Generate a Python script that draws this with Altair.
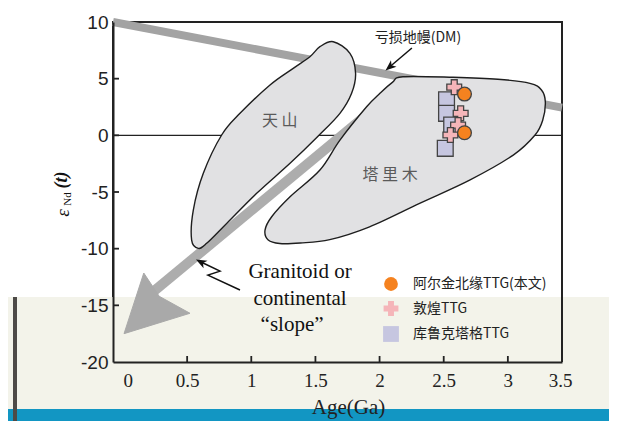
import altair as alt
import pandas as pd

# ---------------- data ----------------
tianshan_x = [1.717, 1.847, 1.891, 1.860, 1.769, 1.600, 1.380, 1.120, 0.886, 0.730,
              0.665, 0.613, 0.626, 0.704, 0.847, 0.990, 1.224, 1.405, 1.535, 1.613]
tianshan_y = [8.26, 7.24, 5.47, 3.71, 1.94, -0.06, -2.47, -5.12, -7.77, -9.53,
              -9.97, -9.24, -6.59, -3.35, 0.03, 1.94, 4.44, 5.91, 6.94, 7.82]

tarim_x = [2.26, 2.65, 3.00, 3.25, 3.34, 3.37, 3.35, 3.29, 3.12, 2.78, 2.39, 2.00,
           1.69, 1.46, 1.30, 1.21, 1.185, 1.237, 1.38, 1.613, 1.769, 1.977, 2.081, 2.18]
tarim_y = [5.17, 5.12, 4.95, 4.59, 4.00, 2.97, 1.35, 0.03, -1.74, -3.95, -6.00, -8.07,
           -9.20, -9.50, -9.55, -9.24, -8.36, -7.18, -5.42, -3.06, -0.42, 2.52, 3.71, 4.70]

dm_x = [0.0, 3.5]
dm_y = [10.0, 2.45]

slope_x = [0.26, 2.30]
slope_y = [-14.3, 4.83]

head_x = [0.086, 0.24, 0.36, 0.60]
head_y = [-17.5, -12.15, -14.2, -15.7]

series = ["阿尔金北缘TTG(本文)", "敦煌TTG", "库鲁克塔格TTG"]
alk_x = [2.74, 2.74]
alk_y = [3.64, 0.23]
dh_x = [2.66, 2.71, 2.69, 2.63]
dh_y = [4.25, 1.94, 0.90, 0.03]
kl_x = [2.60, 2.60, 2.64, 2.59]
kl_y = [3.14, 1.94, 0.91, -1.15]

x_ticks = [0, 0.5, 1, 1.5, 2, 2.5, 3, 3.5]
y_ticks = [-20, -15, -10, -5, 0, 5, 10]

dm_arrow_x = [2.33, 2.158]
dm_arrow_y = [7.71, 6.05]
gran_arrow_x = [0.99, 0.74, 0.834, 0.686]
gran_arrow_y = [-13.65, -12.33, -11.98, -11.18]

gran_lines = ["Granitoid or", "continental", "\u201cslope\u201d"]
gran_x = [1.458, 1.458, 1.396]
gran_y = [-12.6, -14.93, -17.27]

# ---------------- helpers ----------------
xs = alt.Scale(domain=[0, 3.5], nice=False, zero=False)
ys = alt.Scale(domain=[-20, 10], nice=False, zero=False)

xaxis = alt.Axis(values=x_ticks, labelExpr="'' + datum.value", title="Age(Ga)",
                 ticks=False, grid=False, domainColor="#222", domainWidth=2, zindex=1,
                 labelFont="Liberation Serif", labelFontSize=19, labelColor="#222",
                 labelPadding=9, labelOffset=10, titleFont="Liberation Serif", titleFontSize=21,
                 titleFontWeight="normal", titleColor="#222", titlePadding=6, titleX=235)
yaxis = alt.Axis(values=y_ticks, labelExpr="'' + datum.value", title=None,
                 ticks=False, grid=False, domainColor="#222", domainWidth=2, zindex=1,
                 labelFont="Liberation Sans", labelFontSize=19, labelColor="#222",
                 labelPadding=5)


def X(f="x"):
    return alt.X(f, type="quantitative", scale=xs, axis=xaxis)


def Y(f="y"):
    return alt.Y(f, type="quantitative", scale=ys, axis=yaxis)


one = pd.DataFrame({"a": [0]})

# ---------------- decoration (screenshot band) ----------------
beige = alt.Chart(one).mark_rect(color="#f3f3ea").encode(
    x=alt.value(-105), x2=alt.value(496), y=alt.value(275), y2=alt.value(410))
teal = alt.Chart(one).mark_rect(color="#1296c3").encode(
    x=alt.value(-105), x2=alt.value(496), y=alt.value(387), y2=alt.value(410))
vbar = alt.Chart(one).mark_rect(color="#4d4a47").encode(
    x=alt.value(-100), x2=alt.value(-96), y=alt.value(275), y2=alt.value(410))
right_edge = alt.Chart(one).mark_rule(color="#222", strokeWidth=2).encode(
    x=alt.value(449), y=alt.value(270), y2=alt.value(340))

# ---------------- lines ----------------
zero_df = pd.DataFrame({"x": [0, 3.5], "y": [0, 0]})
zero_line = alt.Chart(zero_df).mark_line(color="#222", strokeWidth=1.3).encode(x=X(), y=Y())

dm_df = pd.DataFrame({"x": dm_x, "y": dm_y})
dm_line = alt.Chart(dm_df).mark_line(color="#a3a3a3", strokeWidth=8, strokeCap="butt").encode(x=X(), y=Y())

slope_df = pd.DataFrame({"x": slope_x, "y": slope_y})
slope_line = alt.Chart(slope_df).mark_line(color="#adadad", strokeWidth=10, strokeCap="butt").encode(x=X(), y=Y())

head_df = pd.DataFrame({"x": head_x, "y": head_y, "i": list(range(len(head_x)))})
head = alt.Chart(head_df).mark_line(fill="#a9a9a9", stroke="#a9a9a9", strokeWidth=1,
                                     interpolate="linear-closed").encode(x=X(), y=Y(), order="i:Q")

# ---------------- regions ----------------
reg_df = pd.concat([
    pd.DataFrame({"x": tianshan_x, "y": tianshan_y, "name": "天山", "i": range(len(tianshan_x))}),
    pd.DataFrame({"x": tarim_x, "y": tarim_y, "name": "塔里木", "i": range(len(tarim_x))}),
])
regions = alt.Chart(reg_df).mark_line(fill="#e1e1e3", stroke="#1e1e1e", strokeWidth=1.4,
                                       interpolate="cardinal-closed").encode(
    x=X(), y=Y(), order="i:Q", detail="name:N")

reg_lab = pd.DataFrame({"x": [1.30, 2.16], "y": [1.29, -3.5], "t": ["天 山", "塔 里 木"]})
reg_text = alt.Chart(reg_lab).mark_text(font="Noto Sans CJK SC", fontSize=16, color="#5a5a5a").encode(
    x=X(), y=Y(), text="t:N")

# ---------------- points ----------------
pts_df = pd.concat([
    pd.DataFrame({"x": kl_x, "y": kl_y, "s": series[2]}),
    pd.DataFrame({"x": dh_x, "y": dh_y, "s": series[1]}),
    pd.DataFrame({"x": alk_x, "y": alk_y, "s": series[0]}),
])
leg = alt.Legend(orient="none", legendX=269, legendY=254, title=None,
                 labelFont="Noto Sans CJK SC", labelFontSize=14, labelColor="#222",
                 symbolStrokeColor="#444", symbolStrokeWidth=1.3, rowPadding=4,
                 labelOffset=13, padding=0, labelLimit=300, zindex=2)
points = alt.Chart(pts_df).mark_point(filled=True, opacity=1, stroke="#444", strokeWidth=1.3).encode(
    x=X(), y=Y(),
    fill=alt.Fill("s:N", scale=alt.Scale(domain=series, range=["#f5821f", "#f5b5b9", "#c6c6e0"]), legend=leg),
    shape=alt.Shape("s:N", scale=alt.Scale(domain=series, range=["circle", "cross", "square"]), legend=leg),
    size=alt.Size("s:N", scale=alt.Scale(domain=series, range=[190, 250, 200]), legend=leg),
)

# ---------------- annotations ----------------
dm_lab = alt.Chart(pd.DataFrame({"x": [2.377], "y": [8.59], "t": ["亏损地幔(DM)"]})).mark_text(
    font="Noto Sans CJK SC", fontSize=14, color="#222").encode(x=X(), y=Y(), text="t:N")

dm_arr_df = pd.DataFrame({"x": dm_arrow_x, "y": dm_arrow_y, "i": [0, 1]})
dm_arr = alt.Chart(dm_arr_df).mark_line(color="#111", strokeWidth=1.5).encode(x=X(), y=Y(), order="i:Q")
arrow_path = "M0,-1L0.75,0.9L0,0.4L-0.75,0.9Z"
dm_head = alt.Chart(dm_arr_df.iloc[[1]]).mark_point(shape=arrow_path, filled=True, color="#111",
                                                      opacity=1, size=130, angle=229.5).encode(x=X(), y=Y())

gr_df = pd.DataFrame({"x": gran_arrow_x, "y": gran_arrow_y, "i": range(len(gran_arrow_x))})
gr_arr = alt.Chart(gr_df).mark_line(color="#111", strokeWidth=1.5).encode(x=X(), y=Y(), order="i:Q")
gr_head = alt.Chart(gr_df.iloc[[3]]).mark_point(shape=arrow_path, filled=True, color="#111",
                                                 opacity=1, size=130, angle=297.6).encode(x=X(), y=Y())

gr_txt_df = pd.DataFrame({"x": gran_x, "y": gran_y, "t": gran_lines})
gr_txt = alt.Chart(gr_txt_df).mark_text(font="Liberation Serif", fontSize=21, color="#111",
                                         baseline="alphabetic").encode(x=X(), y=Y(), text="t:N")

# y-axis title epsilon_Nd(t)
eps = alt.Chart(one).mark_text(text="ε", font="Liberation Serif", fontStyle="italic", fontSize=19,
                               angle=270, color="#111").encode(x=alt.value(-50), y=alt.value(191))
nd = alt.Chart(one).mark_text(text="Nd", font="Liberation Serif", fontSize=11,
                              angle=270, color="#111").encode(x=alt.value(-45), y=alt.value(177))
tt = alt.Chart(one).mark_text(text="(t)", font="Liberation Serif", fontStyle="italic", fontWeight="bold",
                              fontSize=18, angle=270, color="#111").encode(x=alt.value(-51), y=alt.value(158))

# inward ticks (6 px long)
ytk_df = pd.DataFrame({"y": [-15, -10, -5, 0, 5], "x": [0.0] * 5, "x2": [0.047] * 5})
ytk = alt.Chart(ytk_df).mark_rule(color="#222", strokeWidth=1.8).encode(
    y=Y(), x=X(), x2="x2:Q")
xtk_df = pd.DataFrame({"x": [0.5, 1, 1.5, 2, 2.5, 3], "y": [-20.0] * 6, "y2": [-19.47] * 6})
xtk = alt.Chart(xtk_df).mark_rule(color="#222", strokeWidth=1.8).encode(
    x=X(), y=Y(), y2="y2:Q", xOffset=alt.value(10))

chart = alt.layer(
    beige, teal, vbar, right_edge,
    zero_line, dm_line, slope_line, head,
    regions, reg_text,
    points,
    dm_arr, dm_head, gr_arr, gr_head,
    dm_lab, gr_txt, eps, nd, tt,
    ytk, xtk,
).properties(
    width=449, height=340,
    autosize=alt.AutoSizeParams(type="none"),
    padding={"left": 105, "top": 14, "right": 47, "bottom": 59},
).configure_view(stroke="#222", strokeWidth=2)

chart.save("out.html", embed_options={"renderer": "svg", "actions": False})
